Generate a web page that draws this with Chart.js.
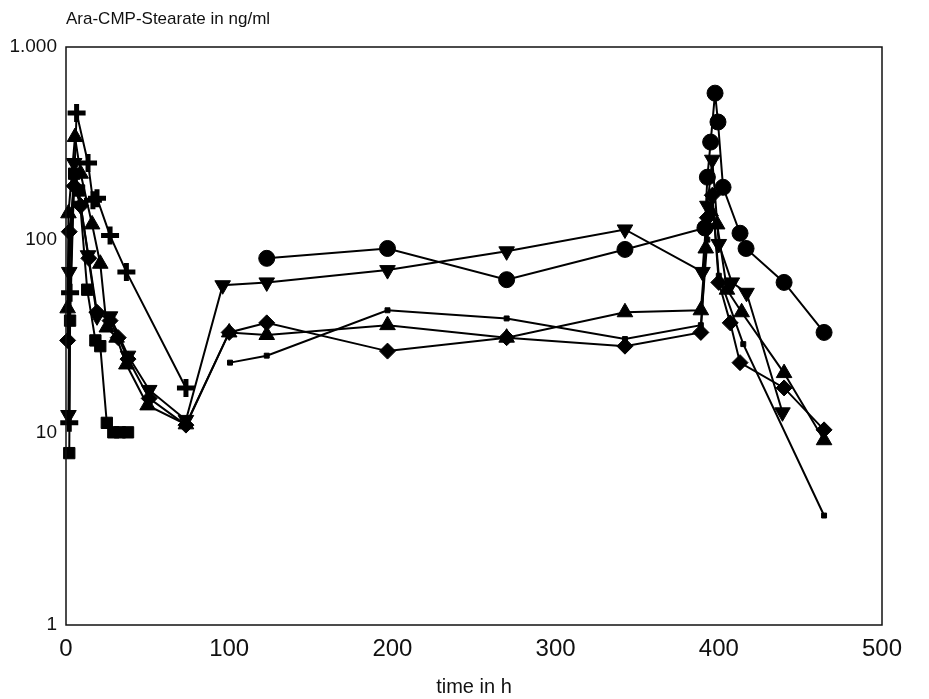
<!DOCTYPE html>
<html>
<head>
<meta charset="utf-8">
<title>Ara-CMP-Stearate</title>
<script src="https://cdn.jsdelivr.net/npm/chart.js@4.4.1/dist/chart.umd.min.js"></script>
<style>
  html, body { margin: 0; padding: 0; background: #fff; }
  #wrap { width: 929px; height: 699px; }
</style>
</head>
<body>
<div id="wrap"><canvas id="myChart" width="929" height="699"></canvas></div>
<script>
// values (time in h, concentration in ng/ml)
const crossTime = [2, 2.5, 6.5, 13.5, 16.5, 19, 27, 37, 73.5];
const crossConc = [11.2, 53, 454, 250, 160, 164, 105, 68, 17];

const squareTime = [2, 2.5, 5, 8, 13, 18, 21, 25, 29, 33, 38];
const squareConc = [7.8, 38, 220, 180, 55, 30, 28, 11.2, 10, 10, 10];

const triUpTime = [1, 1.5, 5.5, 9, 16, 21, 25, 31, 37, 50, 73.5, 100, 123, 197, 270, 342.5, 389, 392, 395, 399, 405, 414, 440, 464.5];
const triUpConc = [44, 137, 341, 220, 120, 75, 35, 31, 22.5, 13.8, 11, 33, 32, 36, 31, 42, 43, 90, 140, 120, 55, 42, 20.3, 9.1];

const triDownTime = [1.5, 2, 5, 9, 13.5, 19, 27, 38, 51, 73.5, 96, 123, 197, 270, 342.5, 390, 393, 396, 400, 408, 417, 439];
const triDownConc = [12.3, 68, 250, 150, 83, 40, 40, 25, 16.6, 11.6, 58, 60, 69.5, 87, 113, 68, 150, 260, 95, 60, 53, 12.7];

const diamondTime = [1, 2, 5, 9, 14, 19, 27, 32, 38, 51, 73.5, 100, 123, 197, 270, 342.5, 389, 393, 396, 400, 407, 413, 440, 464.5];
const diamondConc = [30, 110, 190, 150, 80, 42, 38, 31, 24, 15, 10.9, 33, 37, 26.4, 31, 28, 33, 130, 170, 60, 37, 23, 17, 10.3];

const smallSqTime = [100.5, 123, 197, 270, 342.5, 389, 393, 396, 400, 415, 464.5];
const smallSqConc = [23, 25, 43, 39, 30.5, 36, 100, 170, 65, 28.7, 3.7];

const circleTime = [123, 197, 270, 342.5, 391.5, 393, 395, 397.7, 399.5, 402.6, 413, 416.7, 440, 464.5];
const circleConc = [80, 90, 62, 89, 115, 211, 321, 576, 408, 187, 108, 90, 60, 33];

const yTicks = [1, 10, 100, 1000];
const yTickLabels = ['1', '10', '100', '1.000'];
const xTicks = [0, 100, 200, 300, 400, 500];

function pts(t, c) {
    return t.map((x, i) => ({x: x, y: c[i]}));
}

function series(t, c, style, radius, extra) {
    return Object.assign({
        data: pts(t, c),
        pointStyle: style,
        pointRadius: radius,
        pointHoverRadius: radius,
        borderColor: '#000',
        backgroundColor: '#000',
        pointBackgroundColor: '#000',
        pointBorderColor: '#000',
        pointBorderWidth: 1,
        borderWidth: 2,
        tension: 0,
        clip: false
    }, extra || {});
}

// frame round the plot and the y caption at the top left
const framePlugin = {
    id: 'frame',
    afterDraw(chart) {
        const ctx = chart.ctx;
        const a = chart.chartArea;
        ctx.save();
        ctx.strokeStyle = '#111';
        ctx.lineWidth = 1.5;
        ctx.strokeRect(a.left, a.top, a.right - a.left, a.bottom - a.top);
        ctx.fillStyle = '#111';
        ctx.font = "17px 'Liberation Sans', Arial, sans-serif";
        ctx.textAlign = 'left';
        ctx.textBaseline = 'alphabetic';
        ctx.fillText('Ara-CMP-Stearate in ng/ml', 66, 24);
        ctx.restore();
    }
};

const ctx = document.querySelector('#myChart').getContext('2d');
const myChart = new Chart(ctx, {
    type: 'line',
    data: {
        datasets: [
            series(crossTime, crossConc, 'cross', 9, {pointBorderWidth: 5}),
            series(squareTime, squareConc, 'rect', 8),
            series(triUpTime, triUpConc, 'triangle', 9),
            series(triDownTime, triDownConc, 'triangle', 9, {pointRotation: 180}),
            series(diamondTime, diamondConc, 'rectRot', 8),
            series(smallSqTime, smallSqConc, 'rect', 3.5),
            series(circleTime, circleConc, 'circle', 8)
        ]
    },
    options: {
        responsive: false,
        animation: false,
        layout: {
            padding: {left: 0, right: 47, top: 47, bottom: 0}
        },
        plugins: {
            legend: {display: false},
            tooltip: {enabled: false}
        },
        scales: {
            x: {
                type: 'linear',
                min: 0,
                max: 500,
                grid: {display: false, drawTicks: false},
                border: {display: false},
                afterBuildTicks(scale) {
                    scale.ticks = xTicks.map(v => ({value: v}));
                },
                afterFit(scale) {
                    scale.height = 74;
                },
                ticks: {
                    padding: 10,
                    color: '#111',
                    font: {family: "'Liberation Sans Narrow', 'Liberation Sans', Arial", size: 24}
                },
                title: {
                    display: true,
                    text: 'time in h',
                    color: '#111',
                    padding: {top: 0, bottom: 0},
                    font: {family: "'Liberation Sans Narrow', 'Liberation Sans', Arial", size: 20}
                }
            },
            y: {
                type: 'logarithmic',
                min: 1,
                max: 1000,
                grid: {display: false, drawTicks: false},
                border: {display: false},
                afterBuildTicks(scale) {
                    scale.ticks = yTicks.map(v => ({value: v}));
                },
                afterFit(scale) {
                    scale.width = 66;
                },
                ticks: {
                    padding: 9,
                    color: '#111',
                    font: {family: "'Liberation Sans', Arial", size: 19},
                    callback: function(value) {
                        const i = yTicks.indexOf(value);
                        return i >= 0 ? yTickLabels[i] : '';
                    }
                }
            }
        }
    },
    plugins: [framePlugin]
});
</script>
</body>
</html>
